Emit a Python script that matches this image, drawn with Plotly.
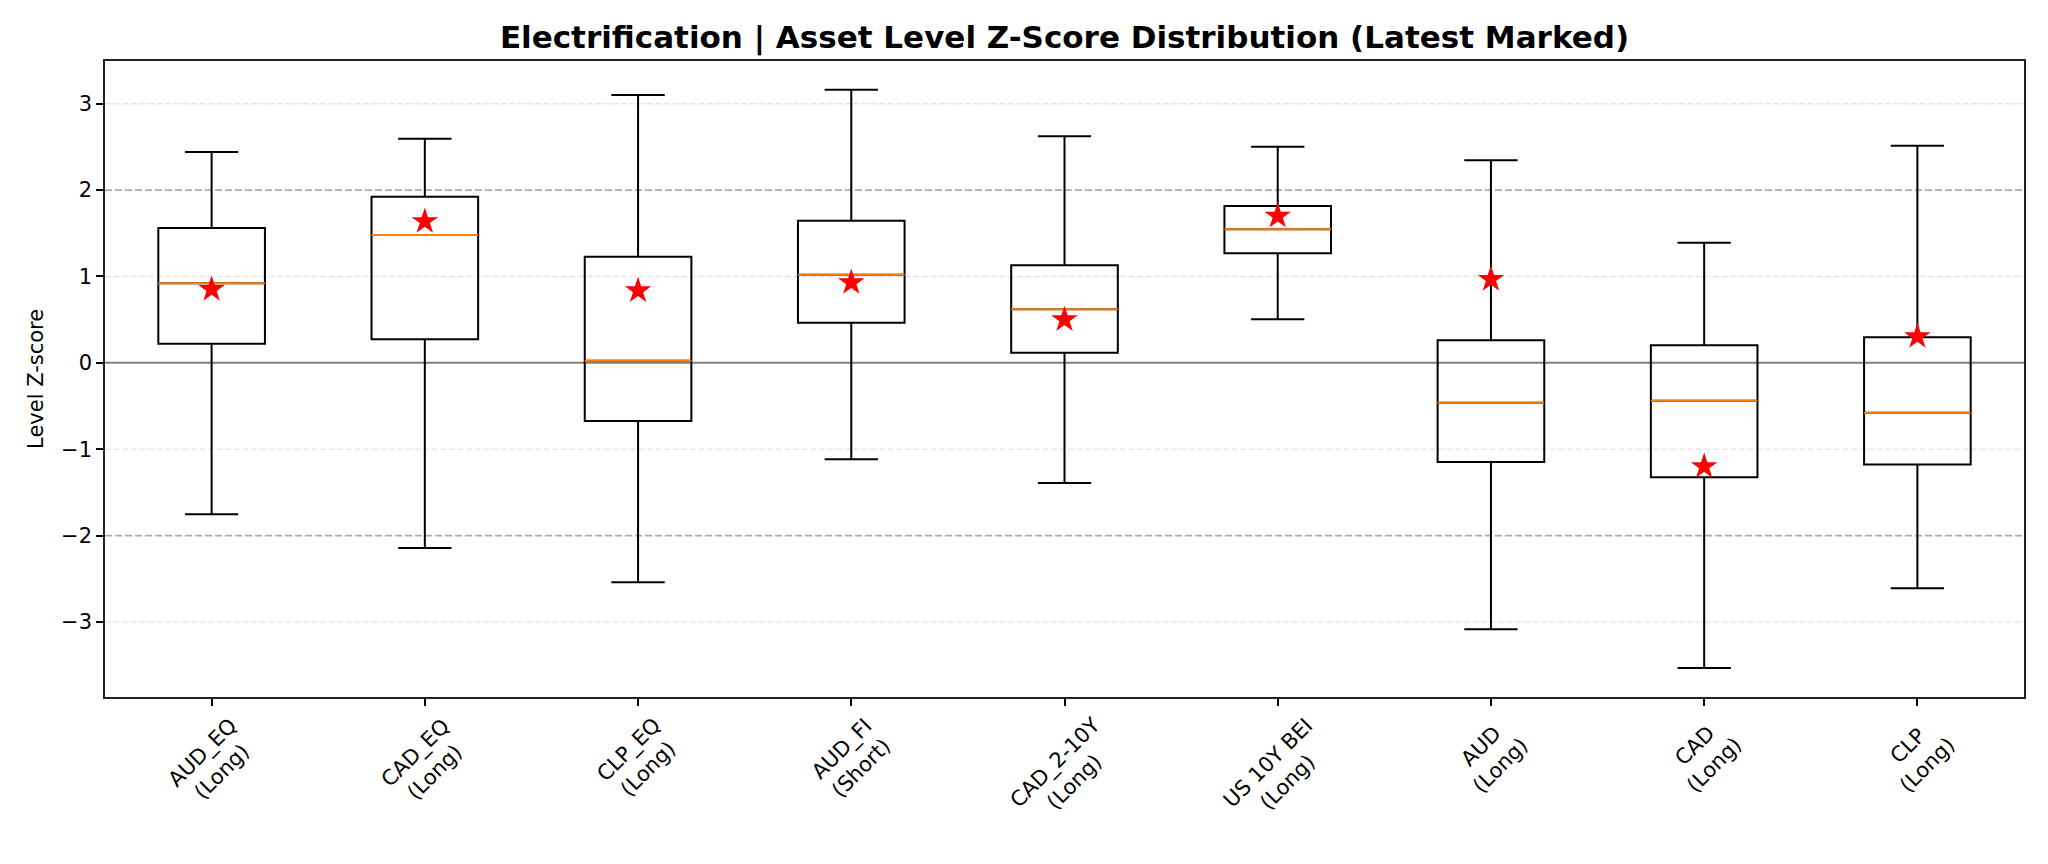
import plotly.graph_objects as go

# ---- data ----
categories = ["AUD_EQ<br>(Long)", "CAD_EQ<br>(Long)", "CLP_EQ<br>(Long)", "AUD_FI<br>(Short)",
              "CAD_2-10Y<br>(Long)", "US 10Y BEI<br>(Long)", "AUD<br>(Long)", "CAD<br>(Long)", "CLP<br>(Long)"]
upper_whisker = [2.44, 2.595, 3.10, 3.162, 2.625, 2.502, 2.347, 1.39, 2.514]
q3_values = [1.56, 1.923, 1.228, 1.645, 1.131, 1.815, 0.263, 0.205, 0.297]
median_values = [0.923, 1.479, 0.023, 1.019, 0.622, 1.548, -0.463, -0.44, -0.579]
q1_values = [0.22, 0.274, -0.672, 0.463, 0.116, 1.27, -1.147, -1.324, -1.178]
lower_whisker = [-1.753, -2.143, -2.54, -1.116, -1.39, 0.506, -3.085, -3.533, -2.61]
latest_values = [0.85, 1.637, 0.836, 0.93, 0.50, 1.70, 0.966, -1.20, 0.305]
y_ticks = [-3, -2, -1, 0, 1, 2, 3]
light_grid = [-3, -1, 1, 3]
threshold_lines = [-2, 2]

positions = list(range(1, len(categories) + 1))
BOX_W = 0.5
FONT = "DejaVu Sans"

fig = go.Figure()

fig.add_trace(go.Box(
    x=positions, q1=q1_values, median=median_values, q3=q3_values,
    lowerfence=lower_whisker, upperfence=upper_whisker,
    width=BOX_W, whiskerwidth=0.5, boxpoints=False,
    fillcolor="rgba(0,0,0,0)", line=dict(color="black", width=2),
    showlegend=False, hoverinfo="skip",
))

mx, my = [], []
for p, m in zip(positions, median_values):
    mx += [p - BOX_W / 2, p + BOX_W / 2, None]
    my += [m, m, None]
fig.add_trace(go.Scatter(x=mx, y=my, mode="lines",
                         line=dict(color="#ff7f0e", width=2), showlegend=False, hoverinfo="skip"))

fig.add_trace(go.Scatter(x=positions, y=latest_values, mode="markers",
                         marker=dict(symbol="star", size=20, color="red", line=dict(width=0)),
                         showlegend=False))

# grid and reference lines
for v in light_grid:
    fig.add_shape(type="line", xref="paper", x0=0, x1=1, y0=v, y1=v, layer="below",
                  line=dict(color="#e6e6e6", width=1.6, dash="6px,2.6px"))
for v in threshold_lines:
    fig.add_shape(type="line", xref="paper", x0=0, x1=1, y0=v, y1=v, layer="below",
                  line=dict(color="#ababab", width=1.8, dash="7px,3px"))
fig.add_shape(type="line", xref="paper", x0=0, x1=1, y0=0, y1=0, layer="below",
              line=dict(color="#808080", width=2))

# rotated category labels
for p, c in zip(positions, categories):
    fig.add_annotation(x=p, y=0, xref="x", yref="paper", text=c, showarrow=False,
                       textangle=-45, xanchor="center", yanchor="top", yshift=-14,
                       font=dict(family=FONT, size=21, color="black"), align="center")

fig.add_annotation(x=-0.036, y=0.5, xref="paper", yref="paper", text="Level Z-score",
                   showarrow=False, textangle=-90, xanchor="center", yanchor="middle",
                   font=dict(family=FONT, size=21, color="black"))

fig.update_layout(
    width=2048, height=864,
    margin=dict(l=105, r=24, t=61, b=167, pad=0),
    paper_bgcolor="white", plot_bgcolor="white",
    title=dict(text="<b>Electrification | Asset Level Z-Score Distribution (Latest Marked)</b>",
               x=(105 + 2024) / 2 / 2048, xanchor="center", y=1 - 37 / 864, yanchor="middle",
               font=dict(family=FONT, size=31, color="black")),
    font=dict(family=FONT, size=21, color="black"),
)
fig.update_xaxes(range=[0.5, 9.5], tickvals=positions, showticklabels=False,
                 ticks="outside", ticklen=7, tickwidth=1.5, tickcolor="black",
                 showline=True, linecolor="#222222", linewidth=1.6, mirror=True,
                 showgrid=False, zeroline=False)
fig.update_yaxes(range=[-3.869, 3.495], tickvals=y_ticks,
                 ticks="outside", ticklen=7, tickwidth=1.5, tickcolor="black",
                 tickfont=dict(family=FONT, size=21, color="black"),
                 showline=True, linecolor="#222222", linewidth=1.6, mirror=True,
                 showgrid=False, zeroline=False)

fig.write_html("out.html")
